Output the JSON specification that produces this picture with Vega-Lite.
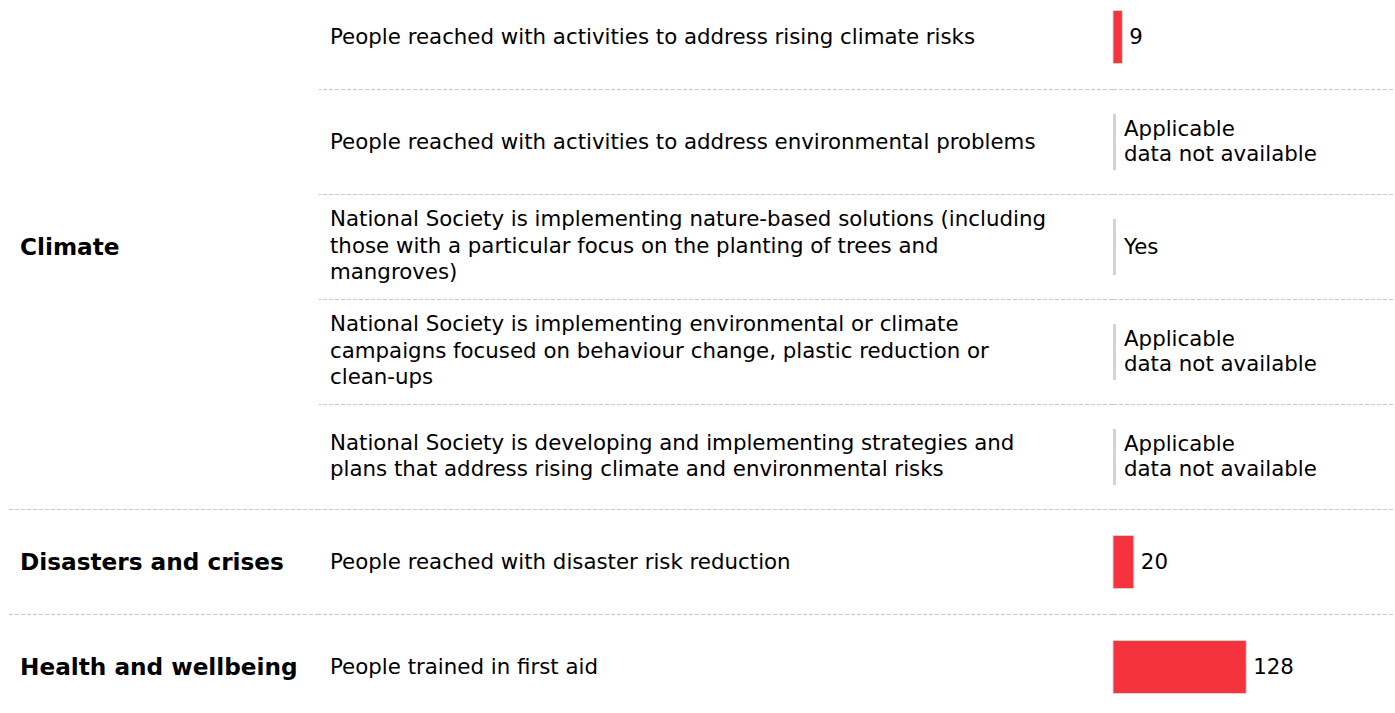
{
  "$schema": "https://vega.github.io/schema/vega-lite/v6.json",
  "padding": {"left": 7, "right": 3, "top": 0, "bottom": 0},
  "spacing": 0,
  "bounds": "flush",
  "background": "white",
  "config": {
    "view": {"stroke": null},
    "font": "DejaVu Sans",
    "concat": {"spacing": 0},
    "text": {"font": "DejaVu Sans", "fontSize": 21.33, "color": "#000000"}
  },
  "data": {
    "values": [
      {"row": 0, "category": "Climate", "indicator": "People reached with activities to address rising climate risks", "value": 9, "status": null},
      {"row": 1, "category": "Climate", "indicator": "People reached with activities to address environmental problems", "value": null, "status": "Applicable\ndata not available"},
      {"row": 2, "category": "Climate", "indicator": "National Society is implementing nature-based solutions (including\nthose with a particular focus on the planting of trees and\nmangroves)", "value": null, "status": "Yes"},
      {"row": 3, "category": "Climate", "indicator": "National Society is implementing environmental or climate\ncampaigns focused on behaviour change, plastic reduction or\nclean-ups", "value": null, "status": "Applicable\ndata not available"},
      {"row": 4, "category": "Climate", "indicator": "National Society is developing and implementing strategies and\nplans that address rising climate and environmental risks", "value": null, "status": "Applicable\ndata not available"},
      {"row": 5, "category": "Disasters and crises", "indicator": "People reached with disaster risk reduction", "value": 20, "status": null},
      {"row": 6, "category": "Health and wellbeing", "indicator": "People trained in first aid", "value": 128, "status": null}
    ]
  },
  "hconcat": [
    {
      "width": 311,
      "height": 713,
      "layer": [
        {
          "transform": [
            {"aggregate": [{"op": "max", "field": "row", "as": "end"}], "groupby": ["category"]},
            {"joinaggregate": [{"op": "max", "field": "end", "as": "last"}]},
            {"filter": "datum.end < datum.last"}
          ],
          "mark": {"type": "rule", "stroke": "#c8c8c8", "strokeWidth": 1, "strokeDash": [4, 2], "yOffset": 52.5},
          "encoding": {
            "y": {"field": "end", "type": "quantitative", "axis": null, "scale": {"domain": [-0.35238, 6.4381], "reverse": true, "nice": false, "zero": false, "padding": 0}}
          }
        },
        {
          "transform": [
            {"aggregate": [{"op": "mean", "field": "row", "as": "mid"}], "groupby": ["category"]}
          ],
          "mark": {"type": "text", "align": "left", "baseline": "middle", "fontWeight": "bold", "fontSize": 23.2, "dx": 12, "dy": 1},
          "encoding": {
            "x": {"value": 0},
            "y": {"field": "mid", "type": "quantitative", "axis": null, "scale": {"domain": [-0.35238, 6.4381], "reverse": true, "nice": false, "zero": false, "padding": 0}},
            "text": {"field": "category", "type": "nominal"}
          }
        }
      ]
    },
    {
      "width": 794,
      "height": 713,
      "layer": [
        {
          "transform": [
            {"joinaggregate": [{"op": "max", "field": "row", "as": "last"}]},
            {"filter": "datum.row < datum.last"}
          ],
          "mark": {"type": "rule", "stroke": "#c8c8c8", "strokeWidth": 1, "strokeDash": [4, 2], "yOffset": 52.5},
          "encoding": {
            "y": {"field": "row", "type": "quantitative", "axis": null, "scale": {"domain": [-0.35238, 6.4381], "reverse": true, "nice": false, "zero": false, "padding": 0}}
          }
        },
        {
          "transform": [{"filter": "length(split(datum.indicator, '\\n')) == 1"}],
          "mark": {"type": "text", "align": "left", "baseline": "middle", "dx": 11, "dy": 1, "lineBreak": "\n", "lineHeight": 26.5},
          "encoding": {
            "x": {"value": 0},
            "y": {"field": "row", "type": "quantitative", "axis": null, "scale": {"domain": [-0.35238, 6.4381], "reverse": true, "nice": false, "zero": false, "padding": 0}},
            "text": {"field": "indicator", "type": "nominal"}
          }
        },
        {
          "transform": [{"filter": "length(split(datum.indicator, '\\n')) == 2"}],
          "mark": {"type": "text", "align": "left", "baseline": "middle", "dx": 11, "dy": -12.5, "lineBreak": "\n", "lineHeight": 25.5},
          "encoding": {
            "x": {"value": 0},
            "y": {"field": "row", "type": "quantitative", "axis": null, "scale": {"domain": [-0.35238, 6.4381], "reverse": true, "nice": false, "zero": false, "padding": 0}},
            "text": {"field": "indicator", "type": "nominal"}
          }
        },
        {
          "transform": [{"filter": "length(split(datum.indicator, '\\n')) == 3"}],
          "mark": {"type": "text", "align": "left", "baseline": "middle", "dx": 11, "dy": -26.5, "lineBreak": "\n", "lineHeight": 26.5},
          "encoding": {
            "x": {"value": 0},
            "y": {"field": "row", "type": "quantitative", "axis": null, "scale": {"domain": [-0.35238, 6.4381], "reverse": true, "nice": false, "zero": false, "padding": 0}},
            "text": {"field": "indicator", "type": "nominal"}
          }
        }
      ]
    },
    {
      "width": 280,
      "height": 713,
      "layer": [
        {
          "transform": [
            {"joinaggregate": [{"op": "max", "field": "row", "as": "last"}]},
            {"filter": "datum.row < datum.last"}
          ],
          "mark": {"type": "rule", "stroke": "#c8c8c8", "strokeWidth": 1, "strokeDash": [4, 2], "yOffset": 52.5},
          "encoding": {
            "y": {"field": "row", "type": "quantitative", "axis": null, "scale": {"domain": [-0.35238, 6.4381], "reverse": true, "nice": false, "zero": false, "padding": 0}}
          }
        },
        {
          "transform": [{"filter": "!isValid(datum.value)"}],
          "mark": {"type": "tick", "orient": "vertical", "size": 56, "thickness": 3, "color": "#d3d3d3", "opacity": 1, "xOffset": 1.5},
          "encoding": {
            "x": {"datum": 0, "type": "quantitative", "axis": null, "scale": {"domain": [0, 269], "nice": false, "zero": true, "padding": 0}},
            "y": {"field": "row", "type": "quantitative", "axis": null, "scale": {"domain": [-0.35238, 6.4381], "reverse": true, "nice": false, "zero": false, "padding": 0}}
          }
        },
        {
          "transform": [{"filter": "isValid(datum.value)"}],
          "mark": {"type": "bar", "orient": "horizontal", "size": 53, "fill": "#f5333f", "stroke": "#d4d4d4", "strokeWidth": 1},
          "encoding": {
            "x": {"field": "value", "type": "quantitative", "axis": null, "scale": {"domain": [0, 269], "nice": false, "zero": true, "padding": 0}},
            "y": {"field": "row", "type": "quantitative", "axis": null, "scale": {"domain": [-0.35238, 6.4381], "reverse": true, "nice": false, "zero": false, "padding": 0}}
          }
        },
        {
          "transform": [{"filter": "isValid(datum.value)"}],
          "mark": {"type": "text", "align": "left", "baseline": "middle", "dx": 7, "dy": 1},
          "encoding": {
            "x": {"field": "value", "type": "quantitative", "axis": null, "scale": {"domain": [0, 269], "nice": false, "zero": true, "padding": 0}},
            "y": {"field": "row", "type": "quantitative", "axis": null, "scale": {"domain": [-0.35238, 6.4381], "reverse": true, "nice": false, "zero": false, "padding": 0}},
            "text": {"field": "value", "type": "quantitative", "format": "d"}
          }
        },
        {
          "transform": [{"filter": "!isValid(datum.value) && length(split(datum.status, '\\n')) == 1"}],
          "mark": {"type": "text", "align": "left", "baseline": "middle", "dx": 11, "dy": 1, "lineBreak": "\n", "lineHeight": 25},
          "encoding": {
            "x": {"datum": 0, "type": "quantitative", "axis": null, "scale": {"domain": [0, 269], "nice": false, "zero": true, "padding": 0}},
            "y": {"field": "row", "type": "quantitative", "axis": null, "scale": {"domain": [-0.35238, 6.4381], "reverse": true, "nice": false, "zero": false, "padding": 0}},
            "text": {"field": "status", "type": "nominal"}
          }
        },
        {
          "transform": [{"filter": "!isValid(datum.value) && length(split(datum.status, '\\n')) == 2"}],
          "mark": {"type": "text", "align": "left", "baseline": "middle", "dx": 11, "dy": -11.5, "lineBreak": "\n", "lineHeight": 25},
          "encoding": {
            "x": {"datum": 0, "type": "quantitative", "axis": null, "scale": {"domain": [0, 269], "nice": false, "zero": true, "padding": 0}},
            "y": {"field": "row", "type": "quantitative", "axis": null, "scale": {"domain": [-0.35238, 6.4381], "reverse": true, "nice": false, "zero": false, "padding": 0}},
            "text": {"field": "status", "type": "nominal"}
          }
        }
      ]
    }
  ]
}
